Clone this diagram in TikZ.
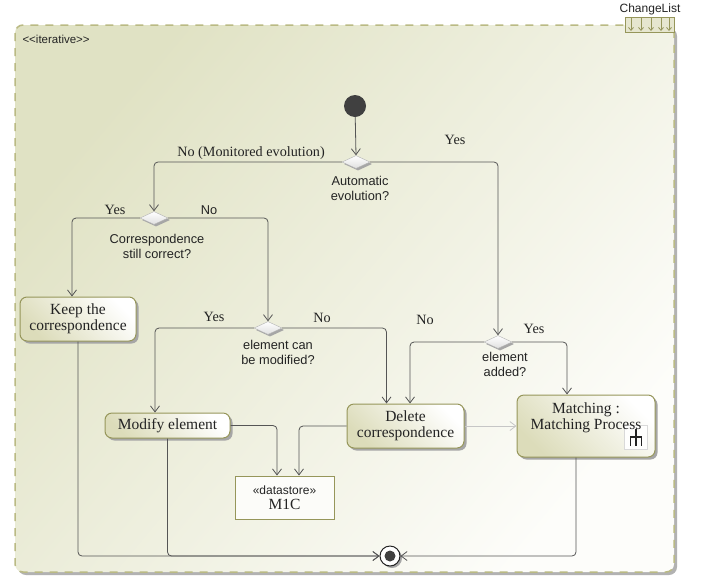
\documentclass[tikz,border=0pt]{standalone}
\usepackage{fontspec}
\setmainfont{Liberation Serif}
\setsansfont{Liberation Sans}
\usetikzlibrary{positioning,shapes.geometric,shadows,arrows.meta}

\definecolor{framefill}{RGB}{224,226,196}
\definecolor{framepale}{RGB}{253,253,250}
\definecolor{framedash}{RGB}{186,186,132}
\definecolor{nodeborder}{RGB}{150,150,90}
\definecolor{nodeshade}{RGB}{220,220,186}
\definecolor{flowline}{RGB}{85,85,85}
\definecolor{inkcol}{RGB}{35,35,35}

\tikzset{
  action/.style={rectangle, rounded corners=7pt, draw=nodeborder, line width=1pt,
    top color=white, bottom color=nodeshade, shading angle=-45,
    drop shadow={shadow xshift=2.5pt, shadow yshift=-2.5pt, fill=black!35, opacity=1},
    align=center, font=\fontsize{15.5}{16}\selectfont, text=inkcol, inner sep=2pt},
  decision/.style={diamond, draw=gray!60, top color=white, bottom color=gray!25,
    minimum width=28, minimum height=13, inner sep=0pt,
    drop shadow={shadow xshift=2pt, shadow yshift=-2pt, fill=black!35, opacity=1}},
  flow/.style={draw=flowline, line width=0.8pt, rounded corners=4pt,
    -{Straight Barb[length=6pt,width=9pt]}},
  guard/.style={font=\fontsize{14.2}{15}\selectfont, text=inkcol},
  guardsf/.style={font=\sffamily\fontsize{12.8}{14.5}\selectfont, text=inkcol},
  question/.style={font=\sffamily\fontsize{12.8}{15}\selectfont, text=inkcol, align=center}
}

\begin{document}
\begin{tikzpicture}[x=1pt, y=-1pt]
        \useasboundingbox (0,0) rectangle (703,576);

        % Frame of the iterative region
        \fill[black!30, rounded corners=8pt] (18,28) rectangle (677,575);
        \shade[top color=framefill, bottom color=framepale, shading angle=50, rounded corners=8pt]
            (15,25) rectangle (674,572);
        \draw[framedash, line width=1.5pt, dash pattern=on 8pt off 7pt, rounded corners=8pt]
            (15,25) rectangle (674,572);
        \node[anchor=west, font=\sffamily\fontsize{11.5}{12}\selectfont, text=inkcol] (iter) at (19,39) {<{}<iterative>{}>};

        % ChangeList pin
        \node[font=\sffamily\fontsize{12}{12}\selectfont, text=inkcol] (chg) at (650,9) {ChangeList};
        \draw[nodeborder, fill=nodeshade!70] (625,17) rectangle (674,32);
        \foreach \x in {631,641,651,661,669}
            \draw[nodeborder, line width=0.8pt, -{Straight Barb[length=3pt,width=5pt]}] (\x,18) -- (\x,31);

        % Nodes
        \node[circle, fill=black!75, minimum size=22, inner sep=0pt] (init) at (355,106) {};
        \node[decision] (dAuto) at (356,162) {};
        \node[decision] (dCorr) at (154,218) {};
        \node[decision] (dMod) at (268,328) {};
        \node[decision] (dAdd) at (498,342) {};

        \node[action, minimum width=116, minimum height=44] (keep) at (78,319) {Keep the\\correspondence};
        \node[action, minimum width=125, minimum height=25] (modify) at (167.5,425.5) {Modify element};
        \node[action, minimum width=117, minimum height=44] (delete) at (405.5,426) {Delete\\correspondence};
        \node[action, minimum width=138, minimum height=62] (match) at (586,426) {};
        % Call behaviour icon, under the action text
        \draw[gray!30, fill=white!97!nodeshade] (624,425) rectangle (647,449);
        \draw[inkcol, line width=1.6pt] (636,429) -- (636,446)
            (630.5,446) -- (630.5,437) -- (641.5,437) -- (641.5,446);
        \node[align=center, font=\fontsize{15.5}{16}\selectfont, text=inkcol, anchor=north]
            (matchtxt) at ([yshift=-5pt]match.north) {Matching :\\Matching Process};
        \node[rectangle, draw=nodeborder, fill=white!92!nodeshade, line width=1pt,
            minimum width=99, minimum height=43, align=center, text=inkcol]
            (store) at (284.5,497.5) {{\sffamily\fontsize{12}{13}\selectfont «datastore»}\\[3pt]{\fontsize{15.5}{16}\selectfont M1C}};
        \node[circle, draw=inkcol, line width=1pt, fill=white, minimum size=20, inner sep=0pt,
            drop shadow={shadow xshift=2pt, shadow yshift=-2pt, fill=black!35, opacity=1},
            path picture={\fill[black!75] (path picture bounding box.center) circle (5.5pt);}]
            (final) at (390,556) {};

        % Decision texts
        \node[question] (qAuto) at (360,188) {Automatic\\evolution?};
        \node[question] (qCorr) at (157,246) {Correspondence\\still correct?};
        \node[question] (qMod) at (278,352) {element can\\be modified?};
        \node[question] (qAdd) at (505,364) {element\\added?};

        % Flows
        \draw[flow] (init) -- (dAuto.north);
        \draw[flow] (dAuto.west) -| (dCorr.north);
        \draw[flow] (dAuto.east) -| (dAdd.north);
        \draw[flow] (dCorr.west) -| ([xshift=-6pt]keep.north);
        \draw[flow] (dCorr.east) -| (dMod.north);
        \draw[flow] (dMod.west) -| ([xshift=-12.5pt]modify.north);
        \draw[flow] (dMod.east) -| ([xshift=-19pt]delete.north);
        \draw[flow] (dAdd.west) -| ([xshift=4.5pt]delete.north);
        \draw[flow] (dAdd.east) -| ([xshift=-19pt]match.north);
        \draw[flow] (modify.east) -| ([xshift=-7.5pt]store.north);
        \draw[flow] (delete.west) -| ([xshift=14.5pt]store.north);
        \draw[flow, draw=gray!45] (delete.east) -- (delete.east -| match.west);
        \draw[flow] (keep.south) |- (final.west);
        \draw[flow] (modify.south) |- (final.west);
        \draw[flow] ([xshift=-10pt]match.south) |- (final.east);

        % Guards
        \node[guard] (gMon) at (251,153) {No (Monitored evolution)};
        \node[guard] (gAutoYes) at (455,140) {Yes};
        \node[guard] (gCorrYes) at (115,210) {Yes};
        \node[guardsf] (gCorrNo) at (209,210) {No};
        \node[guard] (gModYes) at (214,317) {Yes};
        \node[guard] (gModNo) at (322,318) {No};
        \node[guard] (gAddNo) at (425,320) {No};
        \node[guard] (gAddYes) at (534,329) {Yes};

    \end{tikzpicture}
\end{document}
